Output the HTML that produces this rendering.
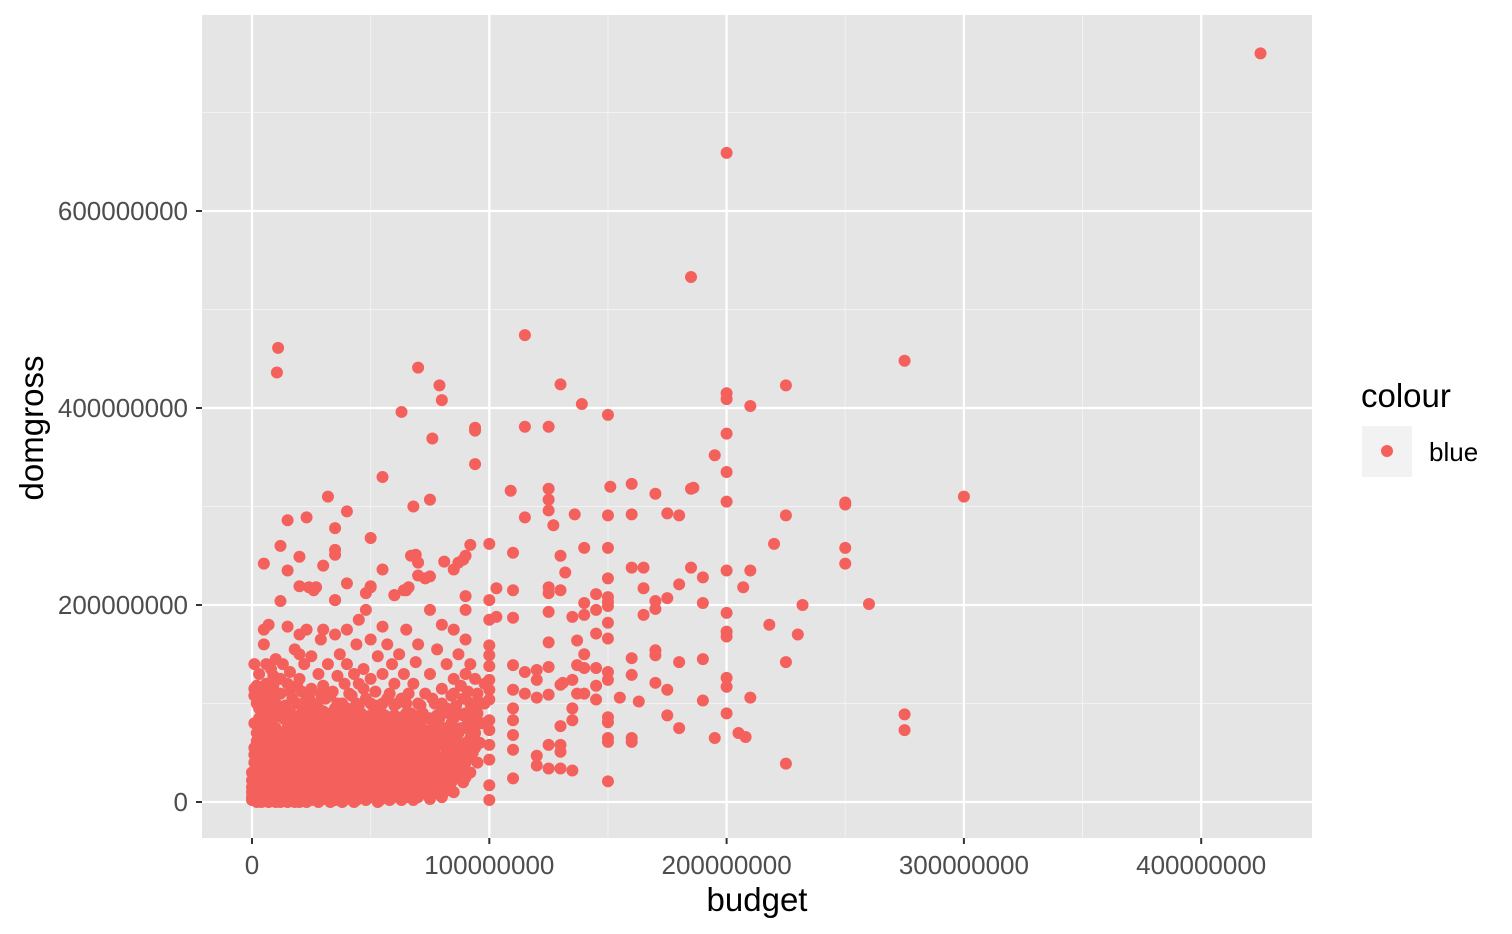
<!DOCTYPE html>
<html><head><meta charset="utf-8">
<style>
html,body{margin:0;padding:0;background:#fff;}
svg{display:block;font-family:"Liberation Sans",Arial,sans-serif;}
</style></head>
<body>
<svg id="chart" width="1512" height="934" viewBox="0 0 1512 934">
<rect x="202" y="15" width="1110" height="823" fill="#e5e5e5"/>
<g id="grid"></g>
<g id="points"></g>
<g id="axes"></g>
<text x="757" y="911" font-size="33" text-anchor="middle" fill="#000">budget</text>
<text x="0" y="0" font-size="33" text-anchor="middle" fill="#000" transform="translate(43,428) rotate(-90)">domgross</text>
<g>
<text x="1361" y="407" font-size="33" fill="#000">colour</text>
<rect x="1362" y="426" width="50" height="51" fill="#f2f2f2"/>
<circle cx="1387" cy="451" r="6" fill="#F4615C"/>
<text x="1429" y="461" font-size="26" fill="#000">blue</text>
</g>
</svg>
<script>
const xTicks=[0,100,200,300,400];
const yTicks=[0,200,400,600];
const xTickLabels=["0","100000000","200000000","300000000","400000000"];
const yTickLabels=["0","200000000","400000000","600000000"];
const outliers=[[425,760],[200,659],[185,533],[11,461],[10.5,436],[70,441],[79,423],[80,408],[76,369],[63,396],[115,474],[130,424],[139,404],[150,393],[94,380],[94,377],[94,343],[115,381],[125,381],[55,330],[32,310],[75,307],[68,300],[40,295],[23,289],[15,286],[35,278],[35,256],[35,251],[50,268],[109,316],[125,318],[125,307],[125,296],[127,281],[151,320],[150,291],[160,323],[160,292],[136,292],[115,289],[170,313],[175,293],[180,291],[185,318],[186,319],[195,352],[200,415],[200,409],[200,374],[200,335],[200,305],[210,402],[225,423],[225,291],[275,448],[250,304],[250,302],[300,310],[220,262],[250,258],[250,242],[260,201],[232,200],[230,170],[218,180],[225,142],[210,235],[200,235],[207,218],[200,192],[200,173],[200,168],[200,126],[200,117],[200,90],[210,106],[205,70],[208,66],[195,65],[225,39],[275,89],[275,73],[190,202],[190,145],[190,103],[190,228],[185,238],[180,221],[180,142],[180,75],[175,207],[175,114],[175,88],[170,204],[170,196],[170,154],[170,149],[170,121],[165,238],[165,217],[165,190],[160,238],[160,146],[160,129],[160,65],[160,61],[163,102],[155,106],
[150,258],[150,227],[150,208],[150,203],[150,199],[150,182],[150,166],[150,132],[150,124],[150,86],[150,81],[150,65],[150,61],[150,21],
[145,211],[145,195],[145,171],[145,136],[145,118],[145,104],[140,258],[140,202],[140,190],[140,150],[140,136],[140,110],[137,164],[137,139],[137,110],[135,188],[135,124],[135,95],[135,83],[135,32],[132,233],[130,250],[131,121],[130,215],[130,119],[130,77],[130,58],[130,51],[130,34],
[125,218],[125,212],[125,193],[125,162],[125,137],[125,109],[125,58],[125,34],[120,134],[120,124],[120,106],[120,47],[120,37],[115,132],[115,110],[110,253],[110,215],[110,187],[110,139],[110,114],[110,95],[110,83],[110,68],[110,53],[110,24],[103,217],[103,188],
[100,262],[100,205],[100,185],[100,159],[100,149],[100,138],[100,124],[100,114],[100,104],[100,83],[100,73],[100,58],[100,43],[100,17],[100,2],
[5,242],[12,204],[20,249],[20,219],[24,218],[27,218],[30,240],[35,205],[40,222],[45,185],[48,212],[50,219],[55,236],[60,210],[64,215],[66,218],[69,251],[70,243],[73,227],[75,229],[81,244],[85,236],[87,243],[89,246],[90,250],[92,261],[90,209]];
const cluster=[[0,2],[0,5],[0,10],[0,15],[0,22],[0,30],[1,40],[1,48],[1,55],[1,108],[1,115],[1,140],[2,0],[2,8],[2,18],[2,27],[2,36],[2,62],[2,70],[2,118],[3,3],[3,12],[3,25],[3,45],[3,85],[3,95],[4,0],[4,20],[4,33],[4,52],[4,78],[4,110],[5,5],[5,15],[5,28],[5,40],[5,60],[5,102],[5,160],[5,175],[6,2],[6,10],[6,35],[6,50],[6,70],[6,88],[6,140],[7,0],[7,22],[7,45],[7,65],[7,105],[7,180],[8,8],[8,30],[8,55],[8,80],[8,95],[8,135],[9,3],[9,18],[9,40],[9,62],[9,118],[10,0],[10,12],[10,28],[10,48],[10,75],[10,100],[10,145],[11,5],[11,35],[11,58],[11,90],[11,125],[12,0],[12,20],[12,42],[12,68],[12,110],[12,260],[13,10],[13,30],[13,52],[13,85],[13,140],[14,2],[14,25],[14,45],[14,72],[14,98],[15,0],[15,15],[15,38],[15,60],[15,80],[15,120],[15,178],[15,235],[16,8],[16,28],[16,50],[16,92],[16,132],[17,3],[17,22],[17,44],[17,66],[17,105],[18,0],[18,14],[18,36],[18,58],[18,82],[18,155],[19,6],[19,28],[19,48],[19,70],[19,100],[20,0],[20,18],[20,40],[20,62],[20,88],[20,125],[20,150],[20,170],[21,10],[21,30],[21,52],[21,75],[21,112],[22,4],[22,24],[22,46],[22,68],[22,95],[22,140],[23,0],[23,16],[23,38],[23,60],[23,84],[23,175],[24,8],[24,30],[24,55],[24,78],[24,108],[25,2],[25,20],[25,42],[25,65],[25,90],[25,115],[25,148],[26,12],[26,35],[26,58],[26,82],[26,215],[27,5],[27,26],[27,48],[27,72],[27,100],[28,0],[28,18],[28,40],[28,62],[28,95],[28,130],[29,10],[29,32],[29,55],[29,78],[29,165],[30,3],[30,22],[30,45],[30,68],[30,92],[30,118],[30,175],[31,14],[31,36],[31,58],[31,85],[31,105],[32,6],[32,28],[32,50],[32,74],[32,140],[33,0],[33,20],[33,42],[33,65],[33,90],[34,12],[34,34],[34,56],[34,80],[34,112],[35,2],[35,25],[35,48],[35,70],[35,95],[35,170],[35,205],[36,15],[36,38],[36,60],[36,85],[36,128],[37,8],[37,30],[37,52],[37,78],[37,150],[38,0],[38,20],[38,44],[38,66],[38,100],[39,12],[39,35],[39,58],[39,82],[39,120],[40,4],[40,26],[40,48],[40,72],[40,95],[40,140],[40,175],[41,16],[41,38],[41,62],[41,88],[42,8],[42,30],[42,52],[42,76],[42,108],[43,0],[43,22],[43,44],[43,68],[43,130],[44,14],[44,36],[44,58],[44,85],[44,160],[45,5],[45,28],[45,50],[45,74],[45,98],[45,120],[46,18],[46,40],[46,64],[46,90],[47,10],[47,32],[47,55],[47,78],[47,135],[48,2],[48,24],[48,46],[48,70],[48,105],[48,195],[49,14],[49,38],[49,60],[49,85],[50,6],[50,28],[50,50],[50,75],[50,100],[50,125],[50,165],[50,218],[51,18],[51,42],[51,65],[51,90],[52,8],[52,32],[52,55],[52,80],[52,112],[53,0],[53,22],[53,46],[53,70],[53,148],[54,14],[54,36],[54,60],[54,95],[55,5],[55,28],[55,50],[55,75],[55,100],[55,130],[55,178],[56,18],[56,40],[56,65],[56,88],[57,10],[57,32],[57,55],[57,78],[57,160],[58,2],[58,24],[58,46],[58,70],[58,110],[59,14],[59,38],[59,62],[59,140],[60,6],[60,30],[60,52],[60,76],[60,98],[60,120],[60,210],[61,20],[61,44],[61,68],[62,10],[62,34],[62,58],[62,85],[62,150],[63,2],[63,26],[63,48],[63,72],[63,105],[64,16],[64,40],[64,64],[64,130],[65,5],[65,30],[65,55],[65,80],[65,100],[65,175],[65,215],[66,20],[66,45],[66,68],[67,10],[67,35],[67,60],[67,90],[67,250],[68,2],[68,25],[68,50],[68,75],[68,120],[69,15],[69,40],[69,65],[69,142],[70,5],[70,30],[70,55],[70,80],[70,100],[70,160],[70,230],[71,20],[71,45],[71,70],[72,10],[72,35],[72,60],[72,90],[73,28],[73,52],[73,110],[74,15],[74,42],[74,70],[75,3],[75,30],[75,58],[75,85],[75,130],[75,195],[76,20],[76,48],[76,75],[77,38],[77,62],[77,100],[78,12],[78,45],[78,88],[78,155],[79,30],[79,68],[80,5],[80,40],[80,75],[80,115],[80,180],[81,25],[81,58],[82,50],[82,95],[82,140],[83,15],[83,72],[84,35],[84,108],[85,10],[85,60],[85,85],[85,125],[85,175],[86,45],[86,98],[87,30],[87,70],[87,150],[88,55],[88,118],[89,20],[89,88],[90,40],[90,75],[90,105],[90,130],[90,165],[90,195],[91,60],[91,112],[92,30],[92,85],[92,140],[93,50],[93,100],[94,70],[94,125],[95,40],[95,90],[95,110],[96,60],[97,80],[98,100],[98,120]];
const clusterFill=[[1,80],[2,100],[3,130],[4,65],[5,90],[6,120],[7,32],[7,78],[8,18],[8,110],[9,50],[9,85],[10,38],[10,60],[10,88],[11,20],[11,70],[12,32],[12,55],[12,90],[13,42],[13,68],[14,12],[14,60],[14,85],[15,28],[15,50],[15,70],[16,40],[16,62],[17,12],[17,34],[17,55],[17,80],[18,25],[18,48],[18,70],[19,38],[19,60],[19,85],[20,8],[20,30],[20,50],[20,75],[21,20],[21,42],[21,64],[21,90],[22,14],[22,35],[22,57],[22,80],[23,27],[23,50],[23,72],[24,18],[24,42],[24,66],[24,90],[25,10],[25,32],[25,54],[25,78],[26,24],[26,46],[26,70],[27,15],[27,38],[27,60],[27,85],[28,8],[28,30],[28,52],[28,75],[29,20],[29,42],[29,66],[30,12],[30,34],[30,56],[30,80],[31,4],[31,25],[31,47],[31,70],[32,16],[32,38],[32,62],[32,88],[33,10],[33,30],[33,54],[33,78],[34,2],[34,22],[34,45],[34,68],[35,14],[35,36],[35,60],[35,82],[36,5],[36,26],[36,50],[36,72],[37,18],[37,40],[37,64],[37,90],[38,10],[38,32],[38,55],[38,80],[39,2],[39,24],[39,46],[39,70],[40,14],[40,36],[40,60],[40,84],[41,6],[41,28],[41,50],[41,75],[42,18],[42,40],[42,64],[42,90],[43,10],[43,32],[43,56],[43,80],[44,2],[44,24],[44,47],[44,70],[45,15],[45,38],[45,62],[45,86],[46,8],[46,30],[46,52],[46,76],[47,20],[47,43],[47,66],[48,12],[48,35],[48,58],[48,82],[49,4],[49,26],[49,48],[49,72],[50,16],[50,38],[50,62],[50,88],[51,8],[51,30],[51,54],[51,78],[52,20],[52,44],[52,68],[53,10],[53,34],[53,58],[53,82],[54,2],[54,25],[54,48],[54,72],[55,16],[55,40],[55,62],[55,88],[56,8],[56,30],[56,52],[56,76],[57,20],[57,44],[57,66],[58,12],[58,35],[58,58],[58,82],[59,4],[59,26],[59,50],[59,74],[60,18],[60,42],[60,64],[60,88],[61,8],[61,32],[61,56],[61,80],[62,22],[62,46],[62,70],[63,14],[63,38],[63,60],[63,86],[64,5],[64,28],[64,52],[64,76],[65,18],[65,42],[65,66],[65,90],[66,10],[66,32],[66,56],[66,80],[67,22],[67,46],[67,72],[68,14],[68,38],[68,62],[68,88],[69,5],[69,28],[69,52],[69,78],[70,18],[70,42],[70,66],[71,8],[71,32],[71,58],[71,84],[72,22],[72,48],[72,74],[73,12],[73,40],[73,66],[74,28],[74,55],[74,85],[75,16],[75,45],[75,72],[76,8],[76,35],[76,62],[77,22],[77,50],[77,80],[78,30],[78,60],[79,15],[79,45],[79,85],[80,25],[80,58],[80,95],[81,10],[81,42],[81,75],[82,30],[82,65],[83,45],[83,90],[84,20],[84,55],[84,80],[85,35],[85,72],[86,25],[86,62],[87,50],[87,90],[88,35],[88,75],[89,50],[89,105],[90,25],[90,60],[90,90],[91,45],[91,80],[92,65],[92,100],[93,75],[94,55],[94,90],[96,80],[97,100],[3,115],[6,100],[9,128],[12,125],[16,112],[19,118],[23,105],[26,100],[29,110],[33,108],[36,100],[41,110],[44,100],[47,115],[52,98],[57,105],[61,100],[66,110],[71,98],[76,105],[80,100],[85,110]];

const NS="http://www.w3.org/2000/svg";
const px0=252, pxPer=2.373, py0=802, pyPer=0.985;
function xScale(v){return px0+v*pxPer;}
function yScale(v){return py0-v*pyPer;}
const grid=document.getElementById('grid');
const axes=document.getElementById('axes');
const pts=document.getElementById('points');
function line(parent,x1,y1,x2,y2,stroke,w,name){
  const l=document.createElementNS(NS,'line');
  l.setAttribute('x1',x1);l.setAttribute('y1',y1);l.setAttribute('x2',x2);l.setAttribute('y2',y2);
  l.setAttribute('stroke',stroke);l.setAttribute('stroke-width',w);
  
  
  parent.appendChild(l);
}
for(let i=0;i<xTicks.length;i++){
  const m=xScale(xTicks[i]+50); if(m<1312) line(grid,m,15,m,838,'#f2f2f2',1,'x-minor-grid');
}
const mPrev=xScale(-50); if(mPrev>202) line(grid,mPrev,15,mPrev,838,'#f2f2f2',1,'x-minor-grid');
for(let i=0;i<yTicks.length;i++){
  const m=yScale(yTicks[i]+100); if(m>15) line(grid,202,m,1312,m,'#f2f2f2',1,'y-minor-grid');
}
xTicks.forEach((t,i)=>{
  const x=xScale(t);
  line(grid,x,15,x,838,'#ffffff',2.2,'x-major-grid');
  line(axes,x,838,x,844,'#333333',2,'x-tick');
  const tx=document.createElementNS(NS,'text');
  tx.setAttribute('x',x);tx.setAttribute('y',874);tx.setAttribute('font-size','26');
  tx.setAttribute('text-anchor','middle');tx.setAttribute('fill','#4d4d4d');
  tx.textContent=xTickLabels[i];
  
  
  axes.appendChild(tx);
});
yTicks.forEach((t,i)=>{
  const y=yScale(t);
  line(grid,202,y,1312,y,'#ffffff',2.2,'y-major-grid');
  line(axes,196,y,202,y,'#333333',2,'y-tick');
  const tx=document.createElementNS(NS,'text');
  tx.setAttribute('x',188);tx.setAttribute('y',y+9);tx.setAttribute('font-size','26');
  tx.setAttribute('text-anchor','end');tx.setAttribute('fill','#4d4d4d');
  tx.textContent=yTickLabels[i];
  
  
  axes.appendChild(tx);
});
[outliers,cluster,clusterFill].forEach(arr=>arr.forEach(p=>{
  const c=document.createElementNS(NS,'circle');
  c.setAttribute('cx',xScale(p[0]));c.setAttribute('cy',yScale(p[1]));
  c.setAttribute('r',6);c.setAttribute('fill','#F4615C');
  
  
  pts.appendChild(c);
}));
</script>
</body></html>
